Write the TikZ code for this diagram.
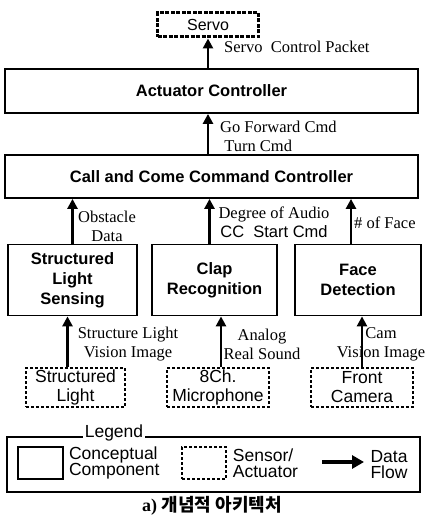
\documentclass[tikz,border=0pt]{standalone}
\usepackage{fontspec}
\setmainfont{Liberation Serif}
\setsansfont{Liberation Sans}
\newfontfamily\krfont{Noto Sans CJK KR}
\usepackage{tikz}
\usetikzlibrary{arrows.meta}
\usetikzlibrary{positioning}

\tikzset{
  comp/.style={draw, line width=1.8pt, align=center, inner sep=0pt,
    font=\fontsize{16.5}{20}\selectfont\sffamily\bfseries},
  sensor/.style={draw, line width=1.4pt, dash pattern=on 3pt off 2pt, align=center, inner sep=0pt,
    font=\fontsize{17.5}{19}\selectfont\sffamily},
  flow/.style={-{Triangle[width=10pt,length=10pt]}, line width=2.6pt},
  lbl/.style={align=center, inner sep=0pt, font=\fontsize{16.5}{19}\selectfont},
  lgtext/.style={align=left, inner sep=0pt, font=\fontsize{17.5}{16}\selectfont\sffamily}
}

\begin{document}
\begin{tikzpicture}[x=1pt,y=-1pt]
\useasboundingbox (0,0) rectangle (425,518);
% boxes
\node[sensor, line width=3pt, dash pattern=on 4pt off 1.5pt, minimum width=101, minimum height=24,
  font=\fontsize{16}{18}\selectfont\sffamily] (servo) at (208,25) {Servo};
\node[comp, minimum width=413, minimum height=44] (act) at (211.5,91) {Actuator Controller};
\node[comp, minimum width=413, minimum height=43] (cc) at (211.5,176.5) {Call and Come Command Controller};
\node[comp, minimum width=129, minimum height=71] (sls) at (72.5,280) {Structured\\Light\\Sensing};
\node[comp, minimum width=125, minimum height=71] (clap) at (214.5,280) {Clap\\Recognition};
\node[comp, minimum width=126, minimum height=71] (face) at (358,280) {Face\\Detection};
\node[sensor, minimum width=99, minimum height=39] (slight) at (75.5,387.5) {Structured\\Light};
\node[sensor, minimum width=102, minimum height=39] (mic) at (218,387.5) {8Ch.\\Microphone};
\node[sensor, minimum width=102, minimum height=39] (cam) at (362,387.5) {Front\\Camera};
% data labels
\node[lbl, anchor=base west] (pkt) at (224,53) {Servo\ \ Control Packet};
\node[lbl, anchor=west, align=left] (gofwd) at (220,136) {Go Forward Cmd\\\ Turn Cmd};
\node[lbl] (obst) at (107,226) {Obstacle\\Data};
\node[lbl] (audio) at (274,222) {Degree of Audio\\{\sffamily CC\ \ Start Cmd}};
\node[lbl, anchor=west] (nface) at (354,223) {\# of Face};
\node[lbl] (slimg) at (128,344) {Structure Light\\Vision Image};
\node[lbl] (sound) at (262,344) {Analog\\Real Sound};
\node[lbl] (camimg) at (381,344) {Cam\\Vision Image};
% data flow
\draw[flow] (servo.south |- act.north) -- (servo.south);
\draw[flow] (servo.south |- cc.north) -- (servo.south |- act.south);
\draw[flow] (sls.north) -- (sls.north |- cc.south);
\draw[flow] ([xshift=-5]clap.north) -- ([xshift=-5]clap.north |- cc.south);
\draw[flow] ([xshift=-7]face.north) -- ([xshift=-7]face.north |- cc.south);
\draw[flow] ([xshift=-8]slight.north) -- ([xshift=-8]slight.north |- sls.south);
\draw[flow] ([xshift=3]mic.north) -- ([xshift=3]mic.north |- clap.south);
\draw[flow] (cam.north) -- (cam.north |- face.south);
% legend
\node[draw, line width=1.2pt, minimum width=413, minimum height=55] (legend) at (213.5,464.5) {};
\node[fill=white, inner sep=1.5pt, anchor=base, font=\fontsize{17.5}{19}\selectfont\sffamily] (lgtitle) at (114,437) {Legend};
\node[draw, line width=1.8pt, minimum width=45, minimum height=32] (lgcomp) at (40.5,463) {};
\node[lgtext, right=5 of lgcomp] (lgcomptxt) {Conceptual\\Component};
\node[sensor, minimum width=44, minimum height=32] (lgsens) at (204,463) {};
\node[lgtext, right=6 of lgsens] (lgsenstxt) {Sensor/\\Actuator};
\coordinate (lgfrom) at (322,462);
\coordinate (lgto) at (364,462);
\draw[flow, line width=4.5pt, -{Triangle[width=13pt,length=12pt]}] (lgfrom) -- (lgto);
\node[lgtext, align=center] (lgflow) at (389,465) {Data\\Flow};
% caption
\node[font=\fontsize{18}{20}\selectfont\bfseries] (caption) at (212,506) {a) {\krfont 개념적 아키텍처}};
\end{tikzpicture}
\end{document}
